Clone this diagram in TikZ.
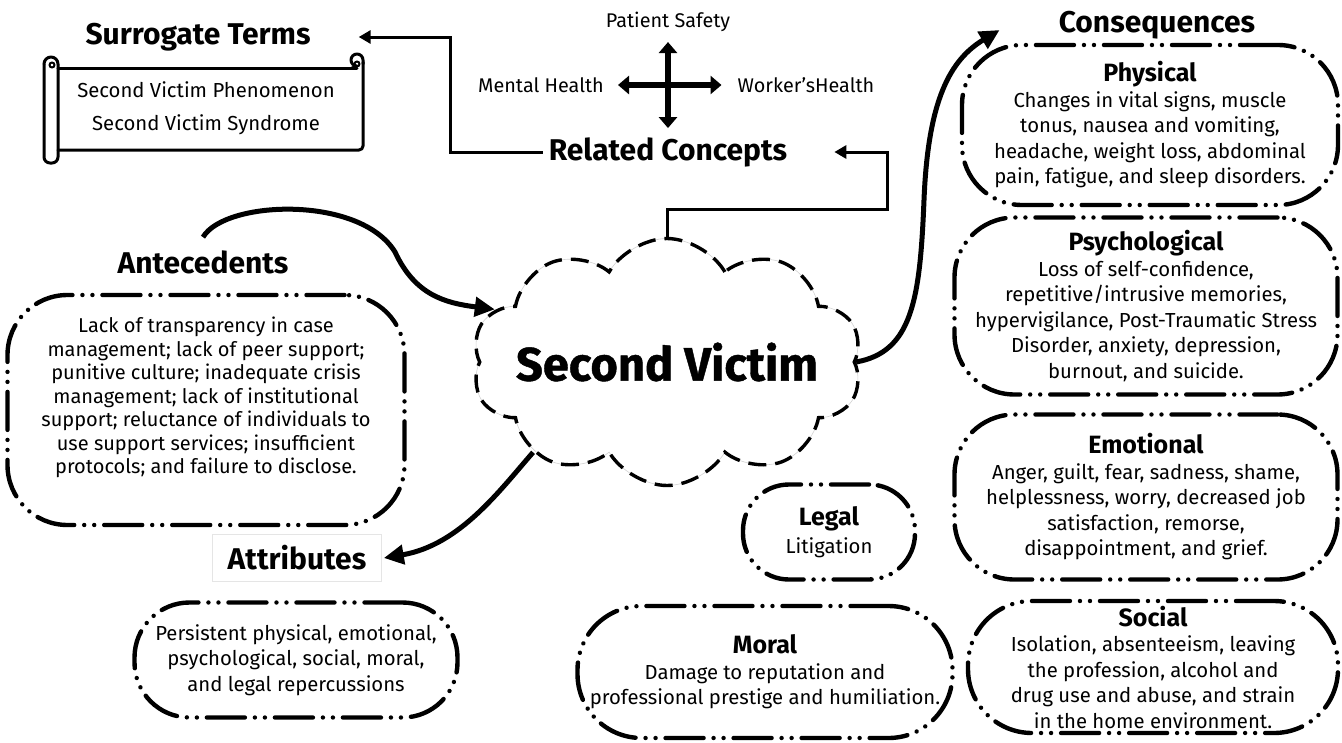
\documentclass[tikz,border=0pt]{standalone}
\usepackage{fontspec}
\setmainfont{Fira Sans}
\newfontfamily\svfont{Fira Sans}[BoldFeatures={FakeBold=0.9}]
\usetikzlibrary{arrows.meta,shapes.symbols,calc}
\begin{document}
\begin{tikzpicture}[x=1pt,y=-1pt,
  ddbox/.style={draw, line width=4.4pt, line cap=round,
    dash pattern=on 38pt off 10pt on 0.01pt off 10pt on 0.01pt off 10pt,
    rounded corners=60pt, align=center, inner sep=0pt,
    font=\fontsize{20.3}{25.5}\selectfont},
  title/.style={font=\bfseries\fontsize{30}{34}\selectfont, inner sep=2pt},
  small/.style={font=\fontsize{19.8}{23}\selectfont, inner sep=2pt},
  elbow/.style={line width=3pt, -{Triangle[length=12pt,width=13pt]}},
  bigarrow/.style={line width=5pt, -{Triangle[length=20pt,width=19pt]}},
  crossarrow/.style={line width=6pt, {Triangle[length=11pt,width=18pt]}-{Triangle[length=11pt,width=18pt]}},
  scroll/.style={line width=3pt, line cap=round, line join=round}
]
\newcommand{\hd}{\bfseries\fontsize{25}{27}\selectfont}
\useasboundingbox (0,0) rectangle (1342,742);

% ---- Surrogate terms ----
\node[title] (surr) at (198,37) {Surrogate Terms};
\draw[scroll] (58,68) -- (357,68);
\draw[scroll,rounded corners=4pt] (363,62) -- (363,150) -- (58,150);
\draw[scroll] (363,64) -- (363,60) arc[start angle=0,end angle=-270,radius=6] -- (352,68);
\draw[scroll,line width=2pt] (357,64) circle[radius=2.5];
\draw[scroll,rounded corners=6pt] (44,64) -- (44,163) -- (58,163) -- (58,64);
\draw[scroll] (44,64) arc[start angle=180,end angle=360,radius=7];
\draw[scroll,line width=2pt] (52,65) circle[radius=2.5];
\node[align=center, font=\fontsize{20.3}{33}\selectfont] (scrolltext) at (206,108)
  {Second Victim Phenomenon\\Second Victim Syndrome};

% ---- Related concepts ----
\node[title] (related) at (668,152) {Related Concepts};
\node[small] (ps) at (668,22) {Patient Safety};
\node[small] (mh) at (541,85) {Mental Health};
\node[small] (wh) at (806,85) {Worker’sHealth};
\draw[crossarrow, shorten <=8pt, shorten >=7pt] (ps) -- (related);
\draw[crossarrow, shorten <=12pt, shorten >=14pt] (mh) -- (wh);
\draw[elbow] ([xshift=-4pt]related.west) -- ++(-92,0) |- ([xshift=46pt]surr.east);

% ---- Second victim cloud ----
\node[cloud, cloud puffs=10, cloud puff arc=120,
      minimum width=390pt, minimum height=247pt, inner sep=0pt,
      draw, line width=3.4pt, dash pattern=on 18pt off 9pt,
      preaction={draw=gray!35, line width=0.6pt, solid}] (sv) at (667,362) {};
\node[font=\svfont\bfseries\fontsize{47}{50}\selectfont] (svtext) at (sv.center) {Second Victim};
\coordinate (bend) at (887,209);
\draw[elbow] (sv.north) |- (bend) |- ([xshift=45pt]related.east);

% ---- Antecedents ----
\node[title] (ante) at (203,262) {Antecedents};
\node[ddbox, minimum width=397pt, minimum height=230pt,
      font=\fontsize{20}{23.5}\selectfont] (antebox) at (206,410)
  {Lack of transparency in case\\management; lack of peer support;\\punitive culture; inadequate crisis\\management; lack of institutional\\support; reluctance of individuals to\\use support services; insufficient\\protocols; and failure to disclose.\\[6pt]};
\draw[bigarrow] ([yshift=11pt]ante.north) .. controls (225,200) and (360,195) .. (395,252)
   .. controls (415,295) and (445,303) .. (sv.163);

% ---- Attributes ----
\node[title, draw=gray!20, line width=0.6pt, minimum width=169pt, minimum height=47pt] (attr) at (297,558) {Attributes};
\node[ddbox, rounded corners=55pt, minimum width=323pt, minimum height=115pt] (attrbox) at (296,660)
  {Persistent physical, emotional,\\psychological, social, moral,\\and legal repercussions};
\draw[bigarrow] (sv.214) .. controls (500,490) and (460,545) .. ([xshift=2pt]attr.east);

% ---- Legal and Moral ----
\node[ddbox, rounded corners=46pt, minimum width=172pt, minimum height=95pt] (legal) at (829,532)
  {{\hd Legal}\\[3pt]Litigation};
\node[ddbox, rounded corners=64pt, minimum width=375pt, minimum height=132pt] (moral) at (765,672)
  {{\hd Moral}\\Damage to reputation and\\professional prestige and humiliation.};

% ---- Consequences ----
\node[title] (cons) at (1157,25) {Consequences};
\draw[bigarrow] (sv.east) .. controls (912,352) and (920,300) .. (924,200)
   .. controls (928,100) and (950,60) .. ([xshift=-57pt,yshift=-5pt]cons.west);
\node[ddbox, minimum width=376pt, minimum height=160pt] (phys) at (1150,125)
  {{\hd Physical}\\Changes in vital signs, muscle\\tonus, nausea and vomiting,\\headache, weight loss, abdominal\\pain, fatigue, and sleep disorders.};
\node[ddbox, minimum width=383pt, minimum height=177pt] (psych) at (1146,306)
  {{\hd Psychological}\\Loss of self-confidence,\\repetitive/intrusive memories,\\hypervigilance, Post-Traumatic Stress\\Disorder, anxiety, depression,\\burnout, and suicide.};
\node[ddbox, minimum width=383pt, minimum height=165pt] (emo) at (1146,497)
  {{\hd Emotional}\\Anger, guilt, fear, sadness, shame,\\helplessness, worry, decreased job\\satisfaction, remorse,\\disappointment, and grief.};
\node[ddbox, rounded corners=64pt, minimum width=370pt, minimum height=132pt] (soc) at (1153,667)
  {{\hd Social}\\Isolation, absenteeism, leaving\\the profession, alcohol and\\drug use and abuse, and strain\\in the home environment.};
\end{tikzpicture}
\end{document}
